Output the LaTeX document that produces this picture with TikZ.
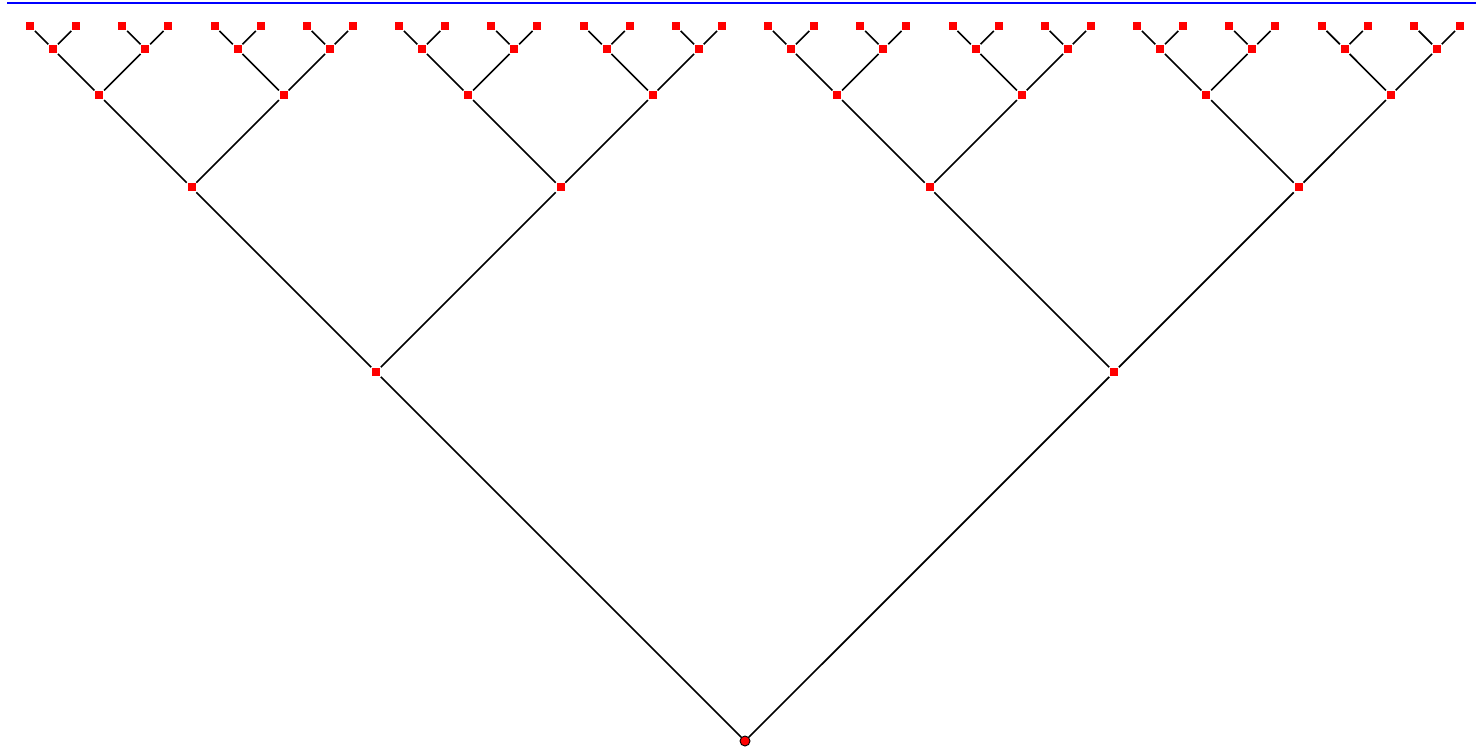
\documentclass[tikz,border=0pt]{standalone}
\usepackage{tikz}

\tikzset{
  knot/.style={fill=red,inner sep=0pt,minimum size=6pt},
  rootknot/.style={circle,fill=red,draw=black,line width=.7pt,inner sep=0pt,minimum size=7.5pt}
}

\begin{document}
\begin{tikzpicture}[x=.75pt,y=-.75pt,line width=1.3pt]
\useasboundingbox (0,0) rectangle (1476,752);
\draw[blue,line width=1.2pt] (7,3)--(1476,3);
\node[rootknot] (n0-0) at (745,741) {};
\foreach \lev in {1,...,5}{
  \pgfmathtruncatemacro\cnt{2^\lev-1}
  \pgfmathtruncatemacro\up{\lev-1}
  \pgfmathsetmacro\h{738/2^\lev}
  \foreach \i in {0,...,\cnt}{
    \pgfmathtruncatemacro\mom{div(\i,2)}
    \node[knot] (n\lev-\i) at ({745+(2*\i+1-2^\lev)*\h},{741-738*(1-1/2^\lev)}) {};
    \draw (n\up-\mom) -- (n\lev-\i);
  }
}
\end{tikzpicture}
\end{document}
